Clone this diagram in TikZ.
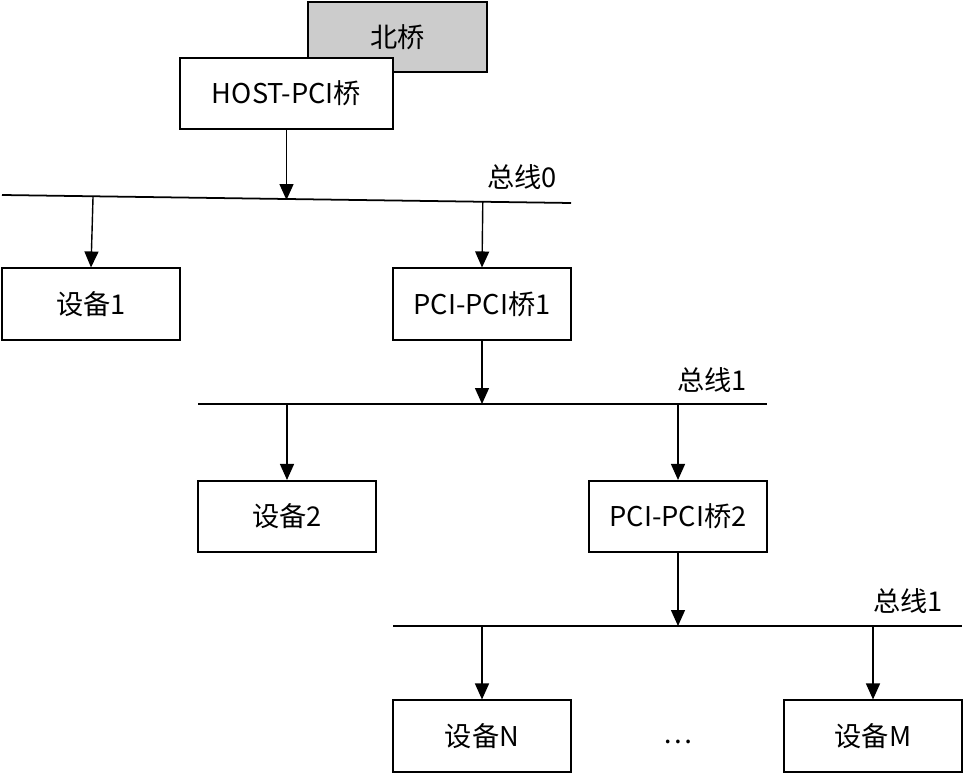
\documentclass[tikz,border=0pt]{standalone}
\usepackage{fontspec}
\setmainfont{Noto Sans CJK SC}
\usepackage{xcolor}
\usetikzlibrary{arrows.meta,positioning,calc}
\definecolor{nbfill}{HTML}{CCCCCC}

\begin{document}
\begin{tikzpicture}[x=0.02cm,y=-0.02cm,font=\fontsize{15.5}{18}\selectfont,
  box/.style={draw,line width=0.9pt,fill=white,minimum width=3.56cm,minimum height=1.43cm,align=center,inner sep=0pt},
  arr/.style={-{Triangle[length=3.2mm,width=2.8mm]},line width=0.8pt},
  bus/.style={line width=1pt}]
\useasboundingbox (0,0) rectangle (963,773);
% north bridge sits behind the host bridge
\node[box,fill=nbfill,minimum width=3.58cm,minimum height=1.4cm] (nb) at (397.5,37) {北桥};
\node[box,minimum width=4.26cm,minimum height=1.42cm] (host) at (286.5,93.5) {HOST-PCI桥};
% bus 0
\coordinate (b0l) at (2,195);
\coordinate (b0r) at (571,203);
\draw[bus] (b0l) -- (b0r);
\node[anchor=east] (l0) at (563,177) {总线0};
\node[box] (dev1) at (91,304) {设备1};
\node[box] (pp1) at (482,304) {PCI-PCI桥1};
\draw[arr] (host.south) -- ($(b0l)!0.5!(b0r)+(0,1)$) coordinate (h0);
\draw[arr] ($(b0l)!0.16!(b0r)$) -- (dev1.north);
\draw[arr] ($(b0l)!0.845!(b0r)$) -- (pp1.north);
% bus 1
\coordinate (b1l) at (198,404);
\coordinate (b1r) at (767,404);
\draw[bus] (b1l) -- (b1r);
\node[anchor=east] (l1) at (753,380) {总线1};
\node[box] (dev2) at (287,516.5) {设备2};
\node[box] (pp2) at (678,516.5) {PCI-PCI桥2};
\draw[arr] (pp1.south) -- (pp1.south |- b1l);
\draw[arr] (dev2.north |- b1l) -- (dev2.north);
\draw[arr] (pp2.north |- b1l) -- (pp2.north);
% bus 2
\coordinate (b2l) at (393,626);
\coordinate (b2r) at (962,626);
\draw[bus] (b2l) -- (b2r);
\node[anchor=east] (l2) at (949,601) {总线1};
\node[box] (devn) at (482,736) {设备N};
\node[box] (devm) at (873,736) {设备M};
\node (dots) at (678,742) {\dots};
\draw[arr] (pp2.south) -- (pp2.south |- b2l);
\draw[arr] (devn.north |- b2l) -- (devn.north);
\draw[arr] (devm.north |- b2l) -- (devm.north);
\end{tikzpicture}
\end{document}
